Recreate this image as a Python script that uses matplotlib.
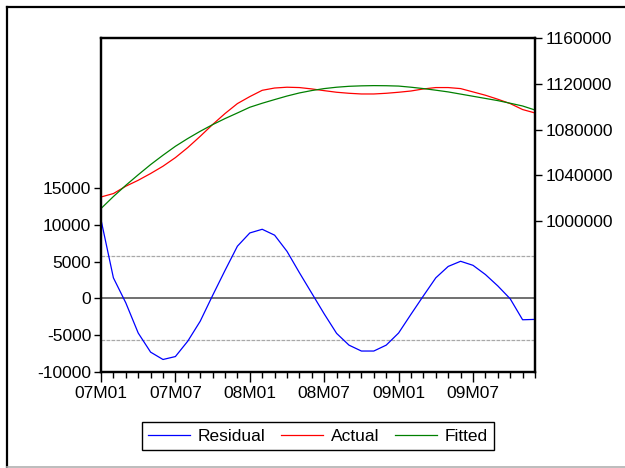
import matplotlib
matplotlib.use("Agg")
import matplotlib.pyplot as plt
from matplotlib.lines import Line2D
from matplotlib.ticker import FixedLocator, MultipleLocator

plt.rcParams['font.family'] = ['Liberation Sans', 'DejaVu Sans']

# Monthly data 2007M01 .. 2009M12
months = list(range(36))
tick_labels = ['07M01', '07M07', '08M01', '08M07', '09M01', '09M07']

residual = [10700, 2800, -600, -4700, -7300, -8300, -7900, -5800, -3100, 400,
            3800, 7100, 8900, 9400, 8600, 6400, 3500, 700, -2100, -4750,
            -6350, -7150, -7150, -6350, -4700, -2150, 350, 2800, 4350, 5050,
            4500, 3250, 1700, -50, -2900, -2850]

actual = [1021100, 1024100, 1030500, 1035700, 1041600, 1048000, 1055500, 1064300,
          1074100, 1084400, 1094000, 1102700, 1108800, 1114300, 1116300, 1117000,
          1116700, 1115500, 1114000, 1112600, 1111700, 1111100, 1111100, 1111700,
          1112600, 1113700, 1115500, 1116700, 1116700, 1115800, 1112900, 1110000,
          1106500, 1102700, 1097500, 1094500]

fitted = [1011000, 1021500, 1031300, 1040500, 1049400, 1057600, 1065400, 1072200,
          1078500, 1084300, 1089600, 1094500, 1099500, 1103000, 1106200, 1109300,
          1112000, 1114100, 1115800, 1117000, 1117800, 1118200, 1118400, 1118300,
          1118000, 1117000, 1115800, 1114400, 1112900, 1111000, 1109100, 1107200,
          1105300, 1103000, 1100600, 1097100]

se_band = 5700
left_ticks = [-10000, -5000, 0, 5000, 10000, 15000]
right_ticks = [1000000, 1040000, 1080000, 1120000, 1160000]

fig = plt.figure(figsize=(6.25, 4.68), dpi=100)

# outer frame of the EViews graph
fig.add_artist(Line2D([7 / 625, 1], [1 - 7 / 468, 1 - 7 / 468], color='black', lw=1.6,
                      transform=fig.transFigure))
fig.add_artist(Line2D([7 / 625, 7 / 625], [1 - 7 / 468, 1 / 468], color='black', lw=1.6,
                      transform=fig.transFigure))
fig.add_artist(Line2D([7 / 625, 1], [1.2 / 468, 1.2 / 468], color='#b0b0b0', lw=1.2,
                      transform=fig.transFigure))

ax = fig.add_axes([101 / 625, 1 - 372 / 468, 434 / 625, 334 / 468])
ax2 = ax.twinx()

# residual on the left axis
ax.axhline(0, color='#707070', lw=1.4, zorder=1)
ax.axhline(se_band, color='#a8a8a8', lw=0.9, ls=(0, (3, 1)), zorder=1)
ax.axhline(-se_band, color='#a8a8a8', lw=0.9, ls=(0, (3, 1)), zorder=1)
l_res, = ax.plot(months, residual, color='#0000ff', lw=0.9, zorder=3)

# actual / fitted on the right axis
l_act, = ax2.plot(months, actual, color='#ff0000', lw=0.9)
l_fit, = ax2.plot(months, fitted, color='#008000', lw=0.9)

ax.set_xlim(0, 35)
ax.set_ylim(-10000, 35400)
ax2.set_ylim(868200, 1160000)

ax.xaxis.set_minor_locator(MultipleLocator(1))
ax.set_xticks(list(range(0, 36, 6)))
ax.set_xticklabels(tick_labels, fontsize=12.5)

ax.yaxis.set_major_locator(FixedLocator(left_ticks))
ax.set_yticklabels([str(v) for v in left_ticks], fontsize=12.5)
ax2.yaxis.set_major_locator(FixedLocator(right_ticks))
ax2.set_yticklabels([str(v) for v in right_ticks], fontsize=12.5)

ax.tick_params(axis='x', which='major', length=7, width=1, direction='out', pad=3)
ax.tick_params(axis='x', which='minor', length=4, width=1, direction='out')
ax.tick_params(axis='y', length=5, width=1, direction='out', pad=2)
ax2.tick_params(axis='y', length=5, width=1, direction='out', pad=3)

for a in (ax, ax2):
    for s in a.spines.values():
        s.set_linewidth(1.6)
        s.set_color('black')

fig.legend([l_res, l_act, l_fit], ['Residual', 'Actual', 'Fitted'],
           loc='center', bbox_to_anchor=(318 / 625, 1 - 436 / 468),
           ncol=3, fontsize=12.5, frameon=True, fancybox=False,
           edgecolor='black', framealpha=1, handlelength=2.4,
           handletextpad=0.45, columnspacing=0.9, borderpad=0.35)
fig.legends[0].get_frame().set_linewidth(1.0)

fig.savefig("out.png", dpi=100)
